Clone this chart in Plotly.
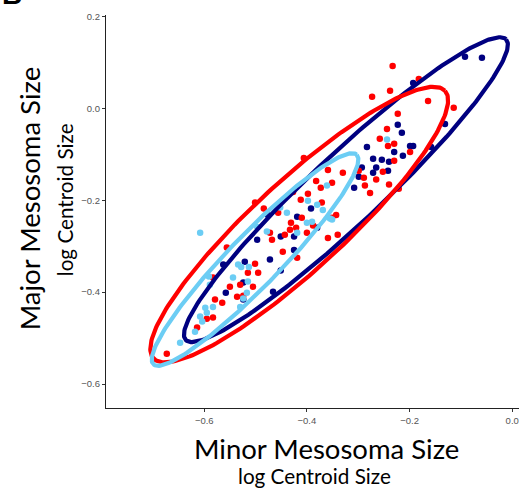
import numpy as np
import plotly.graph_objects as go

# Group colours
NAVY = "#000080"
RED = "#FF0000"
SKY = "#6CCDF4"

# log centroid sizes: minor (x) vs major (y) mesosoma, per group
navy_x = [-0.092, -0.059, -0.193, -0.131, -0.223, -0.215, -0.283, -0.199, -0.193, -0.158,
          -0.230, -0.213, -0.271, -0.254, -0.240, -0.265, -0.293, -0.242, -0.271, -0.299,
          -0.308, -0.392, -0.419, -0.380, -0.476, -0.451, -0.425, -0.425, -0.472, -0.497,
          -0.451, -0.466, -0.524, -0.558, -0.563, -0.521, -0.524]
navy_y = [0.112, 0.110, 0.055, -0.034, -0.036, -0.053, -0.084, -0.082, -0.082, -0.084,
          -0.095, -0.103, -0.110, -0.112, -0.116, -0.129, -0.129, -0.136, -0.140, -0.149,
          -0.173, -0.218, -0.236, -0.260, -0.232, -0.279, -0.279, -0.308, -0.329, -0.286,
          -0.353, -0.399, -0.379, -0.401, -0.340, -0.334, -0.416]

red_x = [-0.233, -0.182, -0.238, -0.273, -0.164, -0.114, -0.223, -0.244, -0.258, -0.230,
         -0.242, -0.199, -0.230, -0.299, -0.252, -0.265, -0.289, -0.287, -0.277, -0.240,
         -0.221, -0.406, -0.501, -0.359, -0.382, -0.373, -0.330, -0.351, -0.398, -0.427,
         -0.371, -0.412, -0.343, -0.351, -0.410, -0.431, -0.443, -0.421, -0.388, -0.359,
         -0.340, -0.456, -0.484, -0.419, -0.447, -0.468, -0.472, -0.433, -0.400, -0.495,
         -0.505, -0.550, -0.530, -0.536, -0.524, -0.565, -0.583, -0.595, -0.614, -0.673,
         -0.556, -0.583, -0.501, -0.515, -0.579]
red_y = [0.092, 0.064, 0.038, 0.025, 0.016, 0.001, -0.012, -0.045, -0.066, -0.077,
         -0.082, -0.095, -0.114, -0.136, -0.138, -0.155, -0.151, -0.168, -0.184, -0.166,
         -0.175, -0.108, -0.205, -0.134, -0.158, -0.173, -0.140, -0.162, -0.186, -0.182,
         -0.205, -0.199, -0.232, -0.238, -0.238, -0.249, -0.275, -0.260, -0.255, -0.282,
         -0.275, -0.227, -0.218, -0.325, -0.312, -0.286, -0.271, -0.264, -0.271, -0.358,
         -0.388, -0.388, -0.384, -0.410, -0.408, -0.423, -0.455, -0.458, -0.477, -0.534,
         -0.303, -0.368, -0.338, -0.358, -0.416]

sky_x = [-0.244, -0.361, -0.380, -0.398, -0.369, -0.351, -0.439, -0.452, -0.497, -0.478,
         -0.400, -0.419, -0.390, -0.355, -0.608, -0.591, -0.534, -0.528, -0.513, -0.544,
         -0.515, -0.583, -0.598, -0.608, -0.595, -0.618, -0.517, -0.589, -0.524, -0.530,
         -0.604, -0.647]
sky_y = [-0.068, -0.168, -0.210, -0.201, -0.221, -0.242, -0.227, -0.216, -0.258, -0.268,
         -0.249, -0.271, -0.247, -0.240, -0.271, -0.366, -0.340, -0.345, -0.345, -0.368,
         -0.377, -0.432, -0.434, -0.453, -0.445, -0.486, -0.401, -0.384, -0.414, -0.432,
         -0.464, -0.510]

# 95% ellipse per group: centre, semi-major vector, conjugate semi-minor vector
ell_center = {"navy": (-0.324, -0.177), "red": (-0.415, -0.253), "sky": (-0.501, -0.329)}
ell_major = {"navy": (0.312, 0.327), "red": (0.284, 0.291), "sky": (0.198, 0.228)}
ell_minor = {"navy": (0.047, -0.055), "red": (0.059, -0.072), "sky": (0.036, -0.039)}

x_ticks = [-0.6, -0.4, -0.2, 0.0]
y_ticks = [-0.6, -0.4, -0.2, 0.0, 0.2]

fig = go.Figure()

groups = [("navy", NAVY, navy_x, navy_y), ("red", RED, red_x, red_y), ("sky", SKY, sky_x, sky_y)]

for name, col, xs, ys in groups:
    fig.add_trace(go.Scatter(x=xs, y=ys, mode="markers",
                             marker=dict(color=col, size=6.5, line=dict(width=0)),
                             showlegend=False, hoverinfo="skip"))

t = np.linspace(0, 2 * np.pi, 240)
for name, col, _, _ in groups:
    cx, cy = ell_center[name]
    ax_, ay_ = ell_major[name]
    bx_, by_ = ell_minor[name]
    ex = cx + np.cos(t) * ax_ + np.sin(t) * bx_
    ey = cy + np.cos(t) * ay_ + np.sin(t) * by_
    fig.add_trace(go.Scatter(x=ex, y=ey, mode="lines",
                             line=dict(color=col, width=4.2),
                             showlegend=False, hoverinfo="skip"))

tick_font = dict(family="Liberation Sans, Arial, sans-serif", size=9.5, color="#555555")
title_font = "Lato, Open Sans, sans-serif"

fig.update_xaxes(range=[-0.7914, 0.0132], tickvals=x_ticks, tickformat=".1f",
                 showgrid=False, zeroline=False, showline=True, linecolor="#222222", linewidth=1.3,
                 ticks="outside", ticklen=3, tickcolor="#333333", tickwidth=1,
                 tickfont=tick_font)
fig.update_yaxes(range=[-0.652, 0.203], tickvals=y_ticks, tickformat=".1f",
                 showgrid=False, zeroline=False, showline=True, linecolor="#222222", linewidth=1.3,
                 ticks="outside", ticklen=3, tickcolor="#333333", tickwidth=1,
                 tickfont=tick_font)

annotations = [
    dict(text="Minor Mesosoma Size", x=0.533, y=-0.104, xref="paper", yref="paper",
         xanchor="center", yanchor="middle", showarrow=False,
         font=dict(family=title_font, size=27.5, color="black")),
    dict(text="log Centroid Size", x=0.504, y=-0.174, xref="paper", yref="paper",
         xanchor="center", yanchor="middle", showarrow=False,
         font=dict(family=title_font, size=20.7, color="black")),
    dict(text="Major Mesosoma Size", x=-0.186, y=0.534, xref="paper", yref="paper",
         xanchor="center", yanchor="middle", showarrow=False, textangle=-90,
         font=dict(family=title_font, size=27.5, color="black")),
    dict(text="log Centroid Size", x=-0.099, y=0.529, xref="paper", yref="paper",
         xanchor="center", yanchor="middle", showarrow=False, textangle=-90,
         font=dict(family=title_font, size=20.7, color="black")),
    dict(text="<b>B</b>", x=-0.257, y=1.008, xref="paper", yref="paper",
         xanchor="left", yanchor="bottom", showarrow=False,
         font=dict(family="Liberation Sans, Arial, sans-serif", size=28, color="black")),
]

fig.update_layout(width=519, height=492, margin=dict(l=106, r=0, t=15, b=84),
                  paper_bgcolor="white", plot_bgcolor="white",
                  annotations=annotations, showlegend=False)

fig.write_html("out.html")
